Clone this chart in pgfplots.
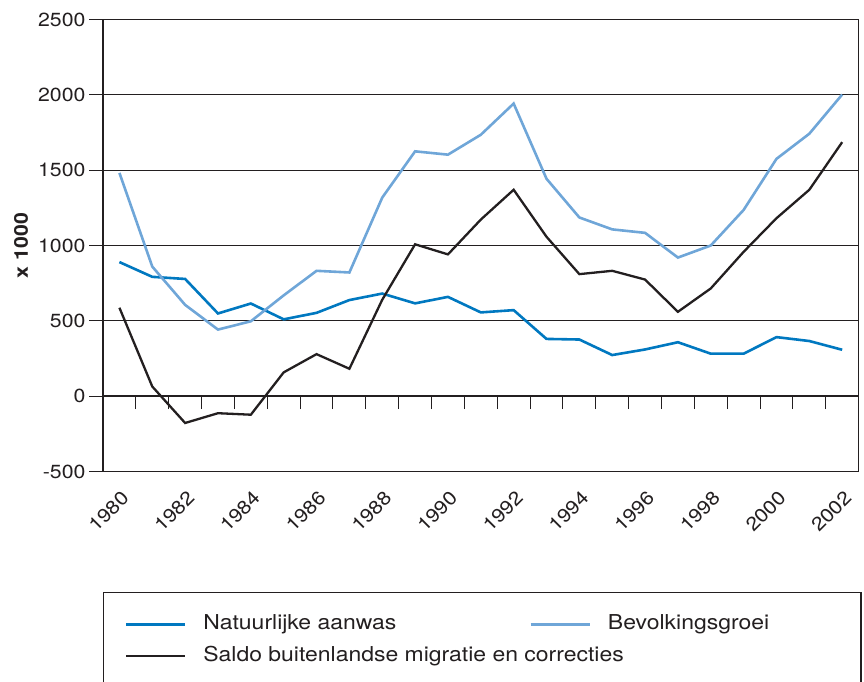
\documentclass[border=0pt]{standalone}
\usepackage{pgfplots}
\pgfplotsset{compat=1.18}
\usepackage{pgfplotstable}
\usepackage{fontspec}
\setmainfont{TeX Gyre Heros}[FakeStretch=1.12]
\definecolor{nblue}{RGB}{0,120,192}
\definecolor{lblue}{RGB}{111,166,216}
\definecolor{dk}{RGB}{35,31,32}

\pgfplotstableread{
year nat bev sal
1980 890 1482 587
1981 792 860 64
1982 778 606 -178
1983 549 442 -113
1984 615 497 -123
1985 510 669 158
1986 553 832 279
1987 638 821 182
1988 681 1318 640
1989 616 1625 1008
1990 659 1603 941
1991 556 1735 1172
1992 571 1942 1370
1993 380 1443 1058
1994 376 1186 810
1995 273 1107 832
1996 310 1084 774
1997 358 920 560
1998 282 1000 715
1999 282 1236 958
2000 392 1575 1181
2001 366 1742 1370
2002 308 2002 1686
}\data

\begin{document}
\begin{tikzpicture}
% zero line with its ticks
\begin{axis}[
  scale only axis, width=755.6pt, height=452pt,
  xmin=1979.5, xmax=2002.5, ymin=-500, ymax=2500,
  axis x line=middle, axis y line=none,
  axis line style={-},
  x axis line style={-, line width=1.6pt, draw=dk},
  xtick={1980.5,1981.5,...,2001.5}, xticklabels={},
  major tick length=13pt,
  x tick style={line width=0.9pt, draw=dk, yshift=-6.5pt},
]
\end{axis}
\begin{axis}[
  scale only axis, width=755.6pt, height=452pt,
  xmin=1979.5, xmax=2002.5, ymin=-500, ymax=2500,
  axis line style={line width=1.5pt, draw=dk},
  xtick={1980,1982,...,2002},
  ytick={-500,0,...,2500},
  ytick pos=left, xtick pos=bottom,
  tick align=outside,
  major tick length=14pt,
  y tick style={line width=0.8pt, draw=dk},
  x tick style={draw=none},
  ymajorgrids, grid style={line width=0.8pt, draw=dk},
  /pgf/number format/1000 sep={},
  /pgf/number format/assume math mode=true,
  tick label style={font=\fontsize{19}{22}\selectfont, text=dk},
  xticklabel style={xshift=6pt, yshift=-9pt, rotate=45, anchor=east, inner sep=0pt},
  every axis y label/.style={at={(axis description cs:0,0.5)}, xshift=-82pt, rotate=90, anchor=center, font=\fontsize{19}{22}\selectfont\bfseries, text=dk},
  ylabel={x 1000},
  legend columns=2,
  legend style={at={(0,0)}, anchor=north west, yshift=-120pt, draw=dk, line width=1.5pt,
    inner xsep=21pt, inner ysep=23pt, column sep=17pt, row sep=14pt,
    font=\fontsize{20.5}{24}\selectfont, text=dk,
    nodes={inner sep=0pt, text height=14pt, text depth=4pt}},
  legend cell align=left,
  legend image code/.code={\draw[#1, line cap=butt] (0pt,0pt) -- (59pt,0pt);},
]
\addplot[nblue, line width=2.6pt] table[x=year, y=nat] {\data};
\addlegendentry{\makebox[309pt][l]{Natuurlijke aanwas}}
\addplot[lblue, line width=2.6pt] table[x=year, y=bev] {\data};
\addlegendentry{\makebox[232pt][l]{Bevolkingsgroei}}
\addplot[dk, line width=2.3pt] table[x=year, y=sal] {\data};
\addlegendentry{\makebox[309pt][l]{Saldo buitenlandse migratie en correcties}}
\end{axis}
\pgfresetboundingbox
\useasboundingbox (-103pt,-209.5pt) rectangle (761pt,471.5pt);
\end{tikzpicture}
\end{document}
